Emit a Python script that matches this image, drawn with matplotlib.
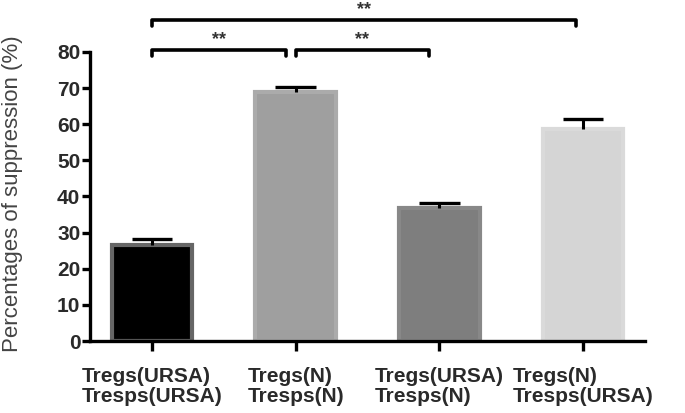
import matplotlib.pyplot as plt

plt.rcParams['font.family'] = ['Liberation Sans', 'DejaVu Sans']

# Data
groups = ["Tregs(URSA)\nTresps(URSA)", "Tregs(N)\nTresps(N)",
          "Tregs(URSA)\nTresps(N)", "Tregs(N)\nTresps(URSA)"]
values = [26.5, 68.8, 36.7, 58.8]
errors = [1.7, 1.6, 1.4, 2.5]
fills = ["#000000", "#9f9f9f", "#7e7e7e", "#d5d5d5"]
edges = ["#666666", "#ababab", "#888888", "#dadada"]

# significance brackets: (start, end, height)
brackets = [(0, 2.95, 88.7), (0, 0.93, 80.4), (1.0, 1.93, 80.4)]
sig_labels = ["**", "**", "**"]

fig = plt.figure(figsize=(6.85, 4.13), dpi=100)
ax = fig.add_axes([0.1314, 0.1743, 0.8102, 0.700])

x = list(range(len(groups)))
ax.bar(x, values, width=0.56, color=fills, edgecolor=edges, linewidth=3, zorder=2)

# upper-only error bars
tops = [v + e for v, e in zip(values, errors)]
ax.vlines(x, values, tops, color="black", lw=2.2, zorder=3)
ax.hlines(tops, [i - 0.14 for i in x], [i + 0.14 for i in x],
          color="black", lw=2.4, zorder=3)

for (x0, x1, h), lab in zip(brackets, sig_labels):
    ax.plot([x0, x0, x1, x1], [h - 1.4, h, h, h - 1.4], color="black",
            lw=2.6, clip_on=False, solid_capstyle="round")
    ax.text((x0 + x1) / 2, h + 0.6, lab, ha="center", va="bottom",
            fontsize=13, fontweight="bold", color="#333333")

ax.set_xlim(-0.43, 3.43)
ax.set_ylim(0, 80)
ax.set_yticks(range(0, 81, 10))
ax.set_xticks(x)
ax.set_xticklabels(groups, fontsize=15, fontweight="bold", color="#2a2a2a",
                   multialignment="left", linespacing=1.05)
for t in ax.get_yticklabels():
    t.set_fontsize(15)
    t.set_fontweight("bold")
    t.set_color("#2a2a2a")

ax.spines["top"].set_visible(False)
ax.spines["right"].set_visible(False)
for s in ["left", "bottom"]:
    ax.spines[s].set_linewidth(2.4)
ax.tick_params(axis="y", length=6, width=2.4, pad=1)
ax.tick_params(axis="x", length=7, width=2.4, pad=12)

ax.set_ylabel("Percentages of suppression (%)", fontsize=16, color="#444444")
ax.yaxis.set_label_coords(-0.12, 0.51)

fig.savefig("out.png", dpi=100)
